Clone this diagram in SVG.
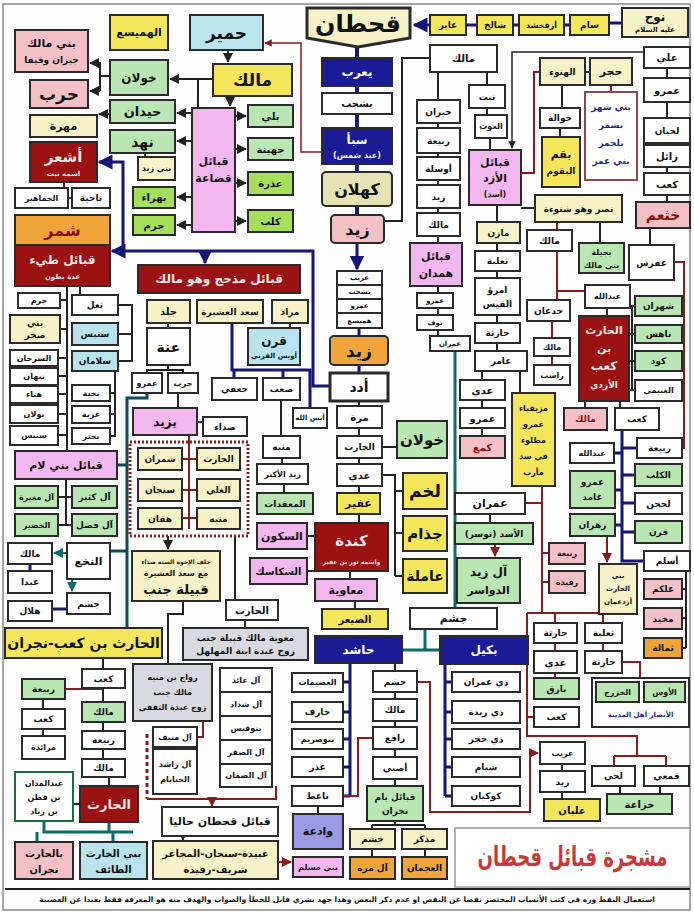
<svg xmlns="http://www.w3.org/2000/svg" width="694" height="914" viewBox="0 0 694 914" font-size="10" fill="#111">
<defs>
<marker id="an" viewBox="0 0 10 10" refX="9" refY="5" markerWidth="5" markerHeight="5" orient="auto"><path d="M0,0 L10,5 L0,10 z" fill="#15157a"/></marker>
<marker id="ak" viewBox="0 0 10 10" refX="9" refY="5" markerWidth="5" markerHeight="5" orient="auto"><path d="M0,0 L10,5 L0,10 z" fill="#222"/></marker>
<marker id="ar" viewBox="0 0 10 10" refX="9" refY="5" markerWidth="5" markerHeight="5" orient="auto"><path d="M0,0 L10,5 L0,10 z" fill="#8b1a1a"/></marker>
<marker id="at" viewBox="0 0 10 10" refX="9" refY="5" markerWidth="5" markerHeight="5" orient="auto"><path d="M0,0 L10,5 L0,10 z" fill="#0d6b6b"/></marker>
</defs>
<style>
rect,polygon{stroke:#2a2a2a;stroke-width:2}
text{font-family:"DejaVu Sans",sans-serif;font-weight:bold;text-anchor:middle;dominant-baseline:central;direction:rtl}
.w{fill:#fff}.y{fill:#f4e65a}.ly{fill:#f6f1c6}.g{fill:#b9e6b3}.lg{fill:#a6df5a}.pk{fill:#f3c0c6}.or{fill:#f1b7ee}.bl{fill:#b9e4ee}.nv{fill:#1b1b96}.rd{fill:#9a1212}.og{fill:#f0a53a}.gr{fill:#d9d9e1}.pu{fill:#9a9ae2}.ol{fill:#e6e2b4}
.lt{fill:#fde6e6}.wt{fill:#fff}.dr{fill:#8a1010}.nt{fill:#1a2a8a}.tr{fill:#c83a3a}
.frame{fill:#fdfdfd;stroke:#888;stroke-width:1.5}.tb{fill:#fff;stroke:#999;stroke-width:1.5}
.dash{fill:none;stroke:#8b1a1a;stroke-width:3;stroke-dasharray:2,2}
.thick{stroke-width:3}.gb{stroke:#1d6b3a}.sb{stroke:#8b4a4a}
.c path{fill:none}
.n{stroke:#15157a;stroke-width:3}.k{stroke:#222;stroke-width:2}.r{stroke:#8b1a1a;stroke-width:2}.t{stroke:#0d6b6b;stroke-width:3}.t2{stroke:#0d4d5a}
.sw4{stroke-width:4}.sw3{stroke-width:3}.sw2{stroke-width:2}.sw15{stroke-width:1.5}.dsh{stroke-dasharray:4,3}
</style>
<rect class="frame" x="3" y="4" width="687" height="906"/>

<g id="connectors" class="c">
<path class="n sw4" d="M357,44 V215"/>
<path class="n" d="M357,243 V269" marker-end="url(#an)"/>
<path class="n" d="M359,328 V336 M359,365 V373"/>
<path class="n" d="M430,25 H414" marker-end="url(#an)"/>
<path class="n" d="M466,25 H477 M513,25 H519 M564,25 H570 M609,23 H622"/>
<path class="n" d="M330,386 H313 V251 H123 V162 H99" marker-end="url(#an)"/>
<path class="n" d="M123,251 H112" marker-end="url(#an)"/>
<path class="n" d="M205,251 V263" marker-end="url(#an)"/>
<path class="n" d="M232,323 V370 H310 V408 M234,370 V378 M283,370 V378"/>
<path class="k" d="M384,221 H402 V58 H430"/>
<path class="k" d="M228,50 V62" marker-end="url(#ak)"/>
<path class="k" d="M213,79 H170" marker-end="url(#ak)"/>
<path class="k" d="M198,79 V108"/>
<path class="k" d="M230,96 V106" marker-end="url(#ak)"/>
<path class="k" d="M110,76 H100 M100,62 V91"/>
<path class="k" d="M100,63 H90" marker-end="url(#ak)"/>
<path class="k" d="M100,91 H90" marker-end="url(#ak)"/>
<path class="k" d="M192,113 H177" marker-end="url(#ak)"/>
<path class="k" d="M192,141 H177" marker-end="url(#ak)"/>
<path class="k" d="M192,197 H177" marker-end="url(#ak)"/>
<path class="k" d="M192,225 H177" marker-end="url(#ak)"/>
<path class="k" d="M110,114 H99" marker-end="url(#ak)"/>
<path class="k" d="M145,153 V157"/>
<path class="k" d="M235,116 H246" marker-end="url(#ak)"/>
<path class="k" d="M235,149 H246" marker-end="url(#ak)"/>
<path class="k" d="M235,183 H246" marker-end="url(#ak)"/>
<path class="k" d="M235,221 H246" marker-end="url(#ak)"/>
<path class="r" d="M64,182 V198 H72 M64,198 H68"/>
<path class="r sw15" d="M322,152 H301 V43 H265" marker-end="url(#ar)"/>
<path class="k" d="M438,72 V243 M438,286 V336 M487,72 V85 M487,108 V115 M490,138 V150"/>
<path class="k sw15" d="M644,52 H512 V148" marker-end="url(#ak)"/>
<path class="k" d="M585,72 H590 M562,85 V108 M560,128 V137"/>
<path class="r" d="M611,85 V92"/>
<path class="r" d="M521,173 H534 V72 H540"/>
<path class="k" d="M667,68 V202 M521,208 H535 M497,205 V351 M482,371 V436 M520,371 V393"/>
<path class="r" d="M557,222 V300 M557,291 H585 M552,321 V365"/>
<path class="k" d="M600,222 V243 M650,222 V245 M607,308 V316"/>
<path class="r" d="M674,262 H684 V448 H682"/>
<path class="k" d="M632,306 V390 M629,306 H635 M629,334 H635 M629,361 H635 M629,390 H635 M585,401 V408 M620,401 V408"/>
<path class="n" d="M622,430 V561 H644 M614,453 H622 M622,448 H637 M622,475 H635 M615,490 H622 M622,503 H635 M615,525 H622 M622,532 H635"/>
<path class="r" d="M607,536 V562" marker-end="url(#ar)"/>
<path class="k" d="M686,571 V648 M682,589 H686 M682,618 H686 M682,648 H686"/>
<path class="r" d="M542,486 V613 M525,503 H542 M542,553 H549 M542,582 H549"/>
<path class="k" d="M490,514 V523"/>
<path class="r" d="M495,544 V556" marker-end="url(#ar)"/>
<path class="r" d="M527,613 H637 M555,613 V623 M603,613 V623 M555,643 V651 M603,643 V651 M555,673 V678 M622,662 H640 V678"/>
<path class="r" d="M527,613 V736 H637 V756 M614,756 H666 M614,756 V766 M666,756 V766 M527,717 H534"/>
<path class="k" d="M620,786 V794 M660,786 V794 M562,764 V771 M562,792 V799"/>
<path class="r" d="M417,682 H430 V812 H530 V753 H538" marker-end="url(#ar)"/>
<path class="t" d="M455,351 V608 M425,629 V650 M402,650 H440"/>
<path class="n" d="M350,663 V797 M343,682 H350 M343,712 H350 M343,739 H350 M343,767 H350 M343,796 H350"/>
<path class="k" d="M318,806 V814 M395,663 V671 M395,692 V699 M395,721 V727 M395,749 V757 M395,779 V786"/>
<path class="r" d="M343,796 H358 V738 H373"/>
<path class="k" d="M395,821 V825 M372,825 H425 M372,825 V829 M425,825 V829 M372,849 V857 M425,849 V857"/>
<path class="r" d="M278,862 H291" marker-end="url(#ar)"/>
<path class="n" d="M445,664 V796 M445,682 H452 M445,712 H452 M445,739 H452 M445,767 H452 M445,796 H452"/>
<path class="k" d="M359,401 V406 M359,428 V436 M382,447 H397 M359,458 V464 M359,486 V493 M359,514 V523 M307,536 H315 M307,571 H315 M350,571 V579 M355,601 V609"/>
<path class="k" d="M382,475 H395 V576 M395,491 H403 M395,533 H403 M395,576 H403"/>
<path class="k" d="M281,400 V436 M282,458 V464 M284,484 V493 M290,323 V328 M168,323 V328 M168,365 V370 H147 V373 M168,370 H183 V373 M178,393 V408 M197,422 H203"/>
<path class="t t2" d="M147,393 V398 H127 V628 M117,465 H127 M110,551 H127"/>
<path class="r" d="M189,435 V529 M182,459 H197 M182,490 H197 M182,518 H197"/>
<path class="k" d="M168,536 V549" marker-end="url(#ak)"/>
<path class="k" d="M235,536 V600 M183,601 V614 H168 V664 M245,620 V628"/>
<path class="r" d="M203,721 V737 H197"/>
<path class="r sw3 dsh" d="M147,734 V799"/>
<path class="r" d="M147,799 H276 V786"/>
<path class="r" d="M212,799 V806" marker-end="url(#ar)"/>
<path class="k" d="M183,836 V840" marker-end="url(#ak)"/>
<path class="k" d="M67,286 V451 M60,300 H67 M60,329 H67 M58,358 H67 M58,376 H67 M58,394 H67 M58,414 H67 M58,435 H67 M80,286 V295"/>
<path class="k" d="M118,305 H132 V361 H118 M118,334 H132 M110,361 H115 V436 H110 M110,393 H115 M110,414 H115"/>
<path class="k" d="M66,479 V525 M58,497 H72 M58,525 H72"/>
<path class="t sw2" d="M67,553 H54" marker-end="url(#at)"/>
<path class="t sw2" d="M72,579 V591" marker-end="url(#at)"/>
<path class="n" d="M67,609 H52 M30,564 V571"/>
<path class="k" d="M103,658 V669 M103,688 V702 M103,722 V731 M103,749 V759 M109,777 V786 M43,699 V709 M43,729 V736 M73,804 H80"/>
<path class="r" d="M65,689 H103"/>
<path class="t" d="M44,821 V832 H133 M37,832 V842 M113,832 V842 M109,822 V832"/>
</g>

<g id="n-qahtan"><polygon class="ly thick" points="307,8 410,8 410,38 358,47 307,38"/><text x="358" y="24" font-size="24">قحطان</text></g>
<g id="n-abir"><rect class="y" x="430" y="15" width="36" height="20"/><text x="448" y="25" font-size="9">عابر</text></g>
<g id="n-shalikh"><rect class="y" x="477" y="15" width="36" height="20"/><text x="495" y="25" font-size="9">شالخ</text></g>
<g id="n-arfakhshad"><rect class="y" x="519" y="15" width="45" height="20"/><text x="541.5" y="25" font-size="8">أرفخشد</text></g>
<g id="n-sam"><rect class="y" x="570" y="15" width="39" height="20"/><text x="589.5" y="25" font-size="9">سام</text></g>
<g id="n-nuh"><rect class="ly" x="622" y="8" width="66" height="29"/><text x="655" y="17" font-size="12">نوح</text><text x="655" y="30" font-size="7">عليه السلام</text></g>

<g id="n-himyar"><rect class="bl" x="190" y="15" width="73" height="35"/><text x="226.5" y="32.5" font-size="17">حمير</text></g>
<g id="n-hamaysa"><rect class="y" x="110" y="15" width="58" height="35"/><text x="139" y="32.5" font-size="11">الهميسع</text></g>
<g id="n-banimalik"><rect class="pk" x="15" y="30" width="73" height="42"/><text x="51.5" y="43" font-size="11">بني مالك</text><text x="51.5" y="60" font-size="9">جيزان وقيفا</text></g>
<g id="n-khawlan1"><rect class="g" x="110" y="60" width="58" height="35"/><text x="139" y="77.5" font-size="12">خولان</text></g>
<g id="n-harb1"><rect class="pk" x="30" y="80" width="58" height="28"/><text x="59" y="94" font-size="17">حرب</text></g>
<g id="n-malik1"><rect class="y" x="213" y="64" width="79" height="32"/><text x="252.5" y="80" font-size="17">مالك</text></g>
<g id="n-haydan"><rect class="g" x="110" y="100" width="65" height="23"/><text x="142.5" y="111.5" font-size="13">حيدان</text></g>
<g id="n-mahra"><rect class="ly" x="30" y="115" width="67" height="22"/><text x="63.5" y="126" font-size="11">مهرة</text></g>
<g id="n-nahd"><rect class="g" x="110" y="130" width="65" height="23"/><text x="142.5" y="141.5" font-size="14">نهد</text></g>
<g id="n-qudaa"><rect class="or" x="192" y="108" width="43" height="124"/><text x="213.5" y="161" font-size="11">قبائل</text><text x="213.5" y="178" font-size="11">قضاعة</text></g>
<g id="n-banizayd"><rect class="ly" x="138" y="157" width="37" height="23"/><text x="156.5" y="168.5" font-size="8">بني زيد</text></g>
<g id="n-bahraa"><rect class="lg" x="133" y="187" width="42" height="21"/><text x="154" y="197.5">بهراء</text></g>
<g id="n-jarm1"><rect class="lg" x="133" y="215" width="42" height="20"/><text x="154" y="225">جرم</text></g>
<g id="n-bali"><rect class="g" x="248" y="105" width="45" height="22"/><text x="270.5" y="116">بلي</text></g>
<g id="n-juhayna"><rect class="g" x="248" y="138" width="45" height="22"/><text x="270.5" y="149">جهينة</text></g>
<g id="n-udhra"><rect class="lg" x="248" y="172" width="45" height="23"/><text x="270.5" y="183.5">عذرة</text></g>
<g id="n-kalb"><rect class="lg" x="248" y="210" width="45" height="22"/><text x="270.5" y="221">كلب</text></g>
<g id="n-ashar"><rect class="rd" x="30" y="142" width="67" height="40"/><text class="lt" x="63.5" y="157" font-size="15">أشعر</text><text class="lt" x="63.5" y="174" font-size="7">اسمه نبت</text></g>
<g id="n-nahiya"><rect class="w" x="72" y="188" width="38" height="20"/><text x="91" y="198" font-size="9">ناحية</text></g>
<g id="n-jamahir"><rect class="w" x="15" y="188" width="53" height="20"/><text x="41.5" y="198" font-size="8">الجماهير</text></g>
<g id="n-shammar"><rect class="og" x="15" y="215" width="95" height="30"/><text class="dr" x="62.5" y="230" font-size="16">شمر</text></g>
<g id="n-tayy"><rect class="rd" x="15" y="245" width="95" height="41"/><text class="lt" x="62.5" y="260" font-size="12">قبائل طيء</text><text class="lt" x="62.5" y="277" font-size="7">عدة بطون</text></g>

<g id="n-yarub"><rect class="nv" x="322" y="58" width="70" height="28"/><text class="wt" x="357" y="72" font-size="12">يعرب</text></g>
<g id="n-yashjub"><rect class="w" x="322" y="93" width="70" height="21"/><text x="357" y="103.5">يشجب</text></g>
<g id="n-saba"><rect class="nv" x="322" y="128" width="70" height="36"/><text class="wt" x="357" y="140" font-size="12">سبأ</text><text class="wt" x="357" y="155" font-size="8">(عبد شمس)</text></g>
<g id="n-kahlan"><rect class="ol" x="322" y="172" width="70" height="34" rx="4"/><text x="357" y="189" font-size="16">كهلان</text></g>
<g id="n-zayd1"><rect class="pk" x="331" y="215" width="53" height="28" rx="4"/><text x="357.5" y="229" font-size="16">زيد</text></g>
<g id="n-stack"><rect class="w" x="337" y="271" width="45" height="14"/><rect class="w" x="337" y="285" width="45" height="14"/><rect class="w" x="337" y="299" width="45" height="14"/><rect class="w" x="337" y="313" width="45" height="15"/><text x="359.5" y="278" font-size="7">عريب</text><text x="359.5" y="292" font-size="7">يشجب</text><text x="359.5" y="306" font-size="7">عمرو</text><text x="359.5" y="320.5" font-size="7">هميسع</text></g>
<g id="n-zayd2"><rect class="og" x="330" y="336" width="58" height="29" rx="4"/><text x="359" y="350.5" font-size="17">زيد</text></g>
<g id="n-udad"><rect class="w thick" x="330" y="373" width="58" height="28"/><text x="359" y="387" font-size="14">أدد</text></g>

<g id="n-madhhij"><rect class="rd" x="138" y="265" width="162" height="28"/><text class="lt" x="219" y="279" font-size="12">قبائل مذحج وهو مالك</text></g>
<g id="n-jald"><rect class="ly" x="147" y="300" width="43" height="23"/><text x="168.5" y="311.5">جلد</text></g>
<g id="n-saad"><rect class="ly" x="197" y="300" width="66" height="23"/><text x="230" y="311.5" font-size="9">سعد العشيرة</text></g>
<g id="n-murad"><rect class="ly" x="272" y="300" width="36" height="23"/><text x="290" y="311.5" font-size="9">مراد</text></g>
<g id="n-qarn1"><rect class="bl" x="248" y="328" width="52" height="37"/><text x="274" y="341" font-size="12">قرن</text><text x="274" y="356" font-size="7">أويس القرني</text></g>
<g id="n-ana"><rect class="w" x="147" y="328" width="43" height="37"/><text x="168.5" y="346.5" font-size="14">عنة</text></g>
<g id="n-amr1"><rect class="w" x="132" y="373" width="30" height="20"/><text x="147" y="383" font-size="8">عمرو</text></g>
<g id="n-harb2"><rect class="w" x="168" y="373" width="30" height="20"/><text x="183" y="383" font-size="8">حرب</text></g>
<g id="n-jufi"><rect class="w" x="212" y="378" width="45" height="22"/><text x="234.5" y="389" font-size="9">جعفي</text></g>
<g id="n-sab"><rect class="w" x="263" y="378" width="37" height="22"/><text x="281.5" y="389" font-size="9">صعب</text></g>
<g id="n-yazid"><rect class="or" x="133" y="408" width="64" height="27"/><text x="165" y="421.5" font-size="12">يزيد</text></g>
<g id="n-suda"><rect class="w" x="203" y="417" width="44" height="19"/><text x="225" y="426.5" font-size="9">صداء</text></g>
<g id="n-anasallah"><rect class="w" x="293" y="408" width="34" height="20"/><text x="310" y="418" font-size="7">أنس الله</text></g>
<g id="n-murra"><rect class="w" x="337" y="406" width="45" height="22"/><text x="359.5" y="417">مرة</text></g>
<g id="n-harith1"><rect class="w" x="337" y="436" width="45" height="22"/><text x="359.5" y="447" font-size="9">الحارث</text></g>
<g id="n-munabbih"><rect class="w" x="263" y="436" width="37" height="22"/><text x="281.5" y="447" font-size="9">منبه</text></g>
<g id="n-khawlan2"><rect class="g" x="397" y="421" width="50" height="37"/><text x="422" y="439.5" font-size="15">خولان</text></g>
<g id="n-zaydakbar"><rect class="w" x="257" y="464" width="51" height="20"/><text x="282.5" y="474" font-size="8">زيد الأكبر</text></g>
<g id="n-maqadat"><rect class="g" x="257" y="493" width="56" height="21"/><text x="285" y="503.5" font-size="9">المعقدات</text></g>
<g id="n-adi1"><rect class="w" x="337" y="464" width="45" height="22"/><text x="359.5" y="475">عدي</text></g>
<g id="n-ufayr"><rect class="y" x="337" y="493" width="43" height="21"/><text x="358.5" y="503.5" font-size="11">عفير</text></g>
<g id="n-kinda"><rect class="rd" x="315" y="523" width="73" height="48"/><text class="lt" x="351.5" y="541" font-size="15">كندة</text><text class="lt" x="351.5" y="561" font-size="6">واسمه ثور بن عفير</text></g>
<g id="n-sakun"><rect class="or" x="257" y="523" width="50" height="26"/><text x="282" y="536" font-size="11">السكون</text></g>
<g id="n-sakasik"><rect class="or" x="250" y="558" width="57" height="26"/><text x="278.5" y="571">السكاسك</text></g>
<g id="n-muawiya"><rect class="or" x="315" y="579" width="62" height="22"/><text x="346" y="590" font-size="11">معاوية</text></g>
<g id="n-sayar"><rect class="y" x="322" y="609" width="66" height="20"/><text x="355" y="619">الصيعر</text></g>
<g id="n-lakhm"><rect class="y" x="403" y="473" width="44" height="36"/><text x="425" y="491" font-size="17">لخم</text></g>
<g id="n-judham"><rect class="y" x="403" y="516" width="44" height="35"/><text x="425" y="533.5" font-size="15">جذام</text></g>
<g id="n-amila"><rect class="y" x="403" y="559" width="44" height="34"/><text x="425" y="576" font-size="14">عاملة</text></g>

<g id="n-janbgroup"><rect class="dash" x="130" y="442" width="118" height="94"/></g>
<g id="n-shamran"><rect class="ly" x="138" y="448" width="44" height="22"/><text x="160" y="459" font-size="9">شمران</text></g>
<g id="n-harith2"><rect class="ly" x="197" y="448" width="43" height="22"/><text x="218.5" y="459" font-size="9">الحارث</text></g>
<g id="n-sanhan"><rect class="ly" x="138" y="479" width="44" height="22"/><text x="160" y="490" font-size="9">سنحان</text></g>
<g id="n-ghali"><rect class="ly" x="197" y="479" width="43" height="22"/><text x="218.5" y="490" font-size="9">الغلي</text></g>
<g id="n-haffan"><rect class="ly" x="138" y="508" width="44" height="21"/><text x="160" y="518.5" font-size="9">هفان</text></g>
<g id="n-munabbih2"><rect class="ly" x="197" y="508" width="43" height="21"/><text x="218.5" y="518.5" font-size="9">منبه</text></g>
<g id="n-janb"><rect class="ly" x="132" y="551" width="88" height="50"/><text x="176" y="561" font-size="6">حلف الإخوة الستة صداء</text><text x="176" y="573" font-size="8">مع سعد العشيرة</text><text x="176" y="589" font-size="13">قبيلة جنب</text></g>
<g id="n-harith3"><rect class="w" x="226" y="600" width="52" height="20"/><text x="252" y="610">الحارث</text></g>
<g id="n-muawiyamalik"><rect class="gr" x="183" y="628" width="125" height="32"/><text x="245.5" y="638" font-size="9">معوية مالك قبيلة جنب</text><text x="245.5" y="651" font-size="9">زوج عبدة ابنة المهلهل</text></g>
<g id="n-rawaj"><rect class="gr" x="133" y="664" width="79" height="57"/><text x="172.5" y="677" font-size="8">رواج بن منبه</text><text x="172.5" y="692" font-size="8">مالك جنب</text><text x="172.5" y="707" font-size="8">زوج عبدة الثقفي</text></g>
<g id="n-list"><rect class="w" x="220" y="668" width="52" height="24"/><rect class="w" x="220" y="692" width="52" height="24"/><rect class="w" x="220" y="716" width="52" height="24"/><rect class="w" x="220" y="740" width="52" height="24"/><rect class="w" x="220" y="764" width="52" height="23"/><text x="246" y="680" font-size="8">آل عائذ</text><text x="246" y="704" font-size="8">آل شداد</text><text x="246" y="728" font-size="8">بنوقيس</text><text x="246" y="752" font-size="8">آل الصقر</text><text x="246" y="775.5" font-size="8">آل الصمان</text></g>
<g id="n-alminif"><rect class="w" x="153" y="727" width="44" height="20"/><text x="175" y="737" font-size="8">آل منيف</text></g>
<g id="n-alrashid"><rect class="w" x="153" y="749" width="44" height="45"/><text x="175" y="764" font-size="8">آل راشد</text><text x="175" y="779" font-size="8">الحبابام</text></g>
<g id="n-qahtannow"><rect class="w" x="162" y="807" width="116" height="29"/><text x="220" y="821.5" font-size="11">قبائل قحطان حاليا</text></g>
<g id="n-ubayda"><rect class="ly" x="153" y="841" width="125" height="38"/><text x="215.5" y="853" font-size="10">عبيدة-سنحان-المجاعر</text><text x="215.5" y="869" font-size="10">شريف-رفيدة</text></g>

<g id="n-jarm2"><rect class="w" x="18" y="293" width="42" height="15"/><text x="39" y="300.5" font-size="8">جرم</text></g>
<g id="n-banisakhr"><rect class="ly" x="10" y="315" width="50" height="28"/><text x="35" y="323" font-size="9">بني</text><text x="35" y="335" font-size="9">صخر</text></g>
<g id="n-sirhan"><rect class="w" x="10" y="350" width="48" height="16"/><text x="34" y="358" font-size="8">السرحان</text></g>
<g id="n-nabhan"><rect class="w" x="10" y="368" width="48" height="17"/><text x="34" y="376.5" font-size="8">نبهان</text></g>
<g id="n-hanaa"><rect class="w" x="10" y="386" width="48" height="17"/><text x="34" y="394.5" font-size="8">هناء</text></g>
<g id="n-bawlan"><rect class="w" x="10" y="405" width="48" height="18"/><text x="34" y="414" font-size="8">بولان</text></g>
<g id="n-sinbis1"><rect class="w" x="10" y="426" width="48" height="19"/><text x="34" y="435.5" font-size="8">سنبس</text></g>
<g id="n-thual"><rect class="w" x="72" y="295" width="46" height="20"/><text x="95" y="305" font-size="9">ثعل</text></g>
<g id="n-sinbis2"><rect class="bl" x="72" y="323" width="46" height="22"/><text x="95" y="334" font-size="9">سنبس</text></g>
<g id="n-salaman"><rect class="bl" x="72" y="351" width="46" height="20"/><text x="95" y="361" font-size="9">سلامان</text></g>
<g id="n-nakhba"><rect class="w" x="72" y="385" width="38" height="16"/><text x="91" y="393" font-size="8">نخبة</text></g>
<g id="n-ghaziyya"><rect class="w" x="72" y="406" width="38" height="17"/><text x="91" y="414.5" font-size="8">غزية</text></g>
<g id="n-buhtur"><rect class="w" x="72" y="428" width="38" height="16"/><text x="91" y="436" font-size="8">بحتر</text></g>
<g id="n-banilam"><rect class="or" x="15" y="451" width="102" height="28"/><text x="66" y="465" font-size="11">قبائل بني لام</text></g>
<g id="n-almughira"><rect class="g" x="15" y="486" width="43" height="22"/><text x="36.5" y="497" font-size="8">آل مغيرة</text></g>
<g id="n-alkathir"><rect class="g" x="72" y="486" width="45" height="22"/><text x="94.5" y="497" font-size="9">آل كثير</text></g>
<g id="n-alkhudayr"><rect class="g" x="15" y="514" width="43" height="22"/><text x="36.5" y="525" font-size="8">الخضير</text></g>
<g id="n-alfadl"><rect class="g" x="72" y="514" width="45" height="22"/><text x="94.5" y="525" font-size="9">آل فضل</text></g>
<g id="n-nakha"><rect class="w" x="67" y="543" width="43" height="36"/><text x="88.5" y="561" font-size="11">النخع</text></g>
<g id="n-malik2"><rect class="w" x="8" y="543" width="44" height="21"/><text x="30" y="553.5" font-size="9">مالك</text></g>
<g id="n-abda"><rect class="w" x="8" y="571" width="44" height="22"/><text x="30" y="582" font-size="9">عبدا</text></g>
<g id="n-hilal"><rect class="w" x="8" y="601" width="44" height="20"/><text x="30" y="611" font-size="9">هلال</text></g>
<g id="n-jusham1"><rect class="w" x="67" y="593" width="43" height="21"/><text x="88.5" y="603.5" font-size="9">جشم</text></g>
<g id="n-harithkaabnajran"><rect class="y" x="5" y="628" width="157" height="30"/><text x="83.5" y="643" font-size="14">الحارث بن كعب-نجران</text></g>
<g id="n-kaab1"><rect class="w" x="82" y="669" width="43" height="19"/><text x="103.5" y="678.5" font-size="9">كعب</text></g>
<g id="n-rabia1"><rect class="g" x="22" y="679" width="43" height="20"/><text x="43.5" y="689" font-size="9">ربيعة</text></g>
<g id="n-malik3"><rect class="g" x="82" y="702" width="43" height="20"/><text x="103.5" y="712" font-size="9">مالك</text></g>
<g id="n-kaab2"><rect class="w" x="22" y="709" width="43" height="20"/><text x="43.5" y="719" font-size="9">كعب</text></g>
<g id="n-marathida"><rect class="w" x="22" y="736" width="43" height="23"/><text x="43.5" y="747.5" font-size="8">مرائدة</text></g>
<g id="n-rabia2"><rect class="w" x="82" y="731" width="43" height="18"/><text x="103.5" y="740" font-size="9">ربيعة</text></g>
<g id="n-malik4"><rect class="w" x="82" y="759" width="43" height="18"/><text x="103.5" y="768" font-size="9">مالك</text></g>
<g id="n-harith4"><rect class="rd" x="80" y="786" width="58" height="36"/><text class="lt" x="109" y="804" font-size="13">الحارث</text></g>
<g id="n-abdulmadan"><rect class="w gb" x="15" y="772" width="58" height="49"/><text x="44" y="783" font-size="8">عبدالمدان</text><text x="44" y="797" font-size="8">بن قطن</text><text x="44" y="811" font-size="8">بن زياد</text></g>
<g id="n-balharith"><rect class="pk" x="15" y="842" width="58" height="37"/><text x="44" y="853" font-size="10">بالحارث</text><text x="44" y="869" font-size="10">نجران</text></g>
<g id="n-banialharith"><rect class="bl" x="80" y="842" width="67" height="37"/><text x="113.5" y="853" font-size="10">بني الحارث</text><text x="113.5" y="869" font-size="10">الطائف</text></g>

<g id="n-maliktop"><rect class="w" x="430" y="45" width="67" height="27"/><text x="463.5" y="58.5" font-size="10">مالك</text></g>
<g id="n-khiran"><rect class="w" x="417" y="100" width="43" height="23"/><text x="438.5" y="111.5" font-size="9">خيران</text></g>
<g id="n-rabia3"><rect class="w" x="417" y="128" width="43" height="25"/><text x="438.5" y="140.5" font-size="9">ربيعة</text></g>
<g id="n-awsala"><rect class="w" x="417" y="157" width="43" height="23"/><text x="438.5" y="168.5" font-size="9">أوسلة</text></g>
<g id="n-zayd3"><rect class="w" x="417" y="185" width="43" height="23"/><text x="438.5" y="196.5" font-size="9">زيد</text></g>
<g id="n-malik5"><rect class="w" x="417" y="213" width="43" height="23"/><text x="438.5" y="224.5" font-size="9">مالك</text></g>
<g id="n-hamdan"><rect class="or" x="410" y="243" width="52" height="43"/><text x="436" y="256" font-size="11">قبائل</text><text x="436" y="273" font-size="11">همدان</text></g>
<g id="n-amr2"><rect class="w" x="417" y="293" width="36" height="15"/><text x="435" y="300.5" font-size="7">عمرو</text></g>
<g id="n-nawf"><rect class="w" x="417" y="315" width="36" height="15"/><text x="435" y="322.5" font-size="7">نوف</text></g>
<g id="n-imran1"><rect class="w" x="430" y="336" width="40" height="15"/><text x="450" y="343.5" font-size="7">عمران</text></g>
<g id="n-nabt"><rect class="w" x="469" y="85" width="36" height="23"/><text x="487" y="96.5" font-size="9">نبت</text></g>
<g id="n-ghawth"><rect class="w" x="475" y="115" width="32" height="23"/><text x="491" y="126.5" font-size="8">الغوث</text></g>
<g id="n-azd"><rect class="or" x="469" y="150" width="52" height="55"/><text x="495" y="162" font-size="11">قبائل</text><text x="495" y="178" font-size="11">الأزد</text><text x="495" y="194" font-size="8">(أسد)</text></g>
<g id="n-hanu"><rect class="ly" x="540" y="58" width="45" height="27"/><text x="562.5" y="71.5" font-size="9">الهنوء</text></g>
<g id="n-hujr"><rect class="ly" x="590" y="58" width="42" height="27"/><text x="611" y="71.5" font-size="11">حجر</text></g>
<g id="n-hawala"><rect class="w" x="540" y="108" width="40" height="20"/><text x="560" y="118" font-size="9">حوالة</text></g>
<g id="n-baqum"><rect class="y" x="542" y="137" width="38" height="50"/><text x="561" y="154" font-size="11">بقم</text><text x="561" y="171" font-size="9">البقوم</text></g>
<g id="n-banishahr"><rect class="w sb" x="585" y="92" width="52" height="88"/><text class="nt" x="611" y="107" font-size="9">بني شهر</text><text class="nt" x="611" y="125" font-size="9">بشمر</text><text class="nt" x="611" y="143" font-size="9">بلحمر</text><text class="nt" x="611" y="161" font-size="9">بني عمر</text></g>
<g id="n-ali"><rect class="w" x="644" y="47" width="46" height="21"/><text x="667" y="57.5">علي</text></g>
<g id="n-amr3"><rect class="w" x="644" y="78" width="46" height="24"/><text x="667" y="90">عمرو</text></g>
<g id="n-lihyan"><rect class="w" x="644" y="118" width="46" height="25"/><text x="667" y="130.5" font-size="9">لحيان</text></g>
<g id="n-zail"><rect class="w" x="644" y="145" width="46" height="22"/><text x="667" y="156">زائل</text></g>
<g id="n-kaab3"><rect class="w" x="644" y="173" width="46" height="22"/><text x="667" y="184">كعب</text></g>
<g id="n-khatham"><rect class="pk" x="636" y="202" width="54" height="26"/><text class="dr" x="663" y="215" font-size="14">خثعم</text></g>
<g id="n-nasr"><rect class="ly" x="535" y="195" width="87" height="27"/><text x="578.5" y="208.5" font-size="9">نصر وهو شنوءة</text></g>
<g id="n-mazin"><rect class="ly" x="477" y="222" width="43" height="21"/><text x="498.5" y="232.5" font-size="9">مازن</text></g>
<g id="n-thalaba1"><rect class="w" x="475" y="251" width="45" height="20"/><text x="497.5" y="261" font-size="9">ثعلبة</text></g>
<g id="n-imruulqays"><rect class="w" x="475" y="278" width="45" height="37"/><text x="497.5" y="290" font-size="9">امرؤ</text><text x="497.5" y="304" font-size="9">القيس</text></g>
<g id="n-haritha1"><rect class="w" x="475" y="323" width="45" height="20"/><text x="497.5" y="333" font-size="9">حارثة</text></g>
<g id="n-amir"><rect class="w" x="475" y="351" width="52" height="20"/><text x="501" y="361" font-size="9">عامر</text></g>
<g id="n-adi2"><rect class="w" x="460" y="380" width="45" height="20"/><text x="482.5" y="390">عدي</text></g>
<g id="n-amr4"><rect class="w" x="460" y="408" width="45" height="20"/><text x="482.5" y="418">عمرو</text></g>
<g id="n-kama"><rect class="pk" x="460" y="436" width="45" height="22"/><text class="dr" x="482.5" y="447">كمع</text></g>
<g id="n-muzayqiya"><rect class="y" x="512" y="393" width="43" height="93"/><text x="533.5" y="408" font-size="8">مزيقياء</text><text x="533.5" y="424" font-size="8">عمرو</text><text x="533.5" y="440" font-size="8">مطلوء</text><text x="533.5" y="456" font-size="8">في سد</text><text x="533.5" y="472" font-size="8">مأرب</text></g>
<g id="n-malik6"><rect class="w" x="527" y="230" width="45" height="21"/><text x="549.5" y="240.5" font-size="9">مالك</text></g>
<g id="n-bajila"><rect class="g" x="579" y="243" width="45" height="30"/><text x="601.5" y="252" font-size="8">بجيلة</text><text x="601.5" y="265" font-size="8">بني مالك</text></g>
<g id="n-afras"><rect class="w" x="629" y="245" width="45" height="35"/><text x="651.5" y="262.5" font-size="9">عفرس</text></g>
<g id="n-jadan"><rect class="w" x="527" y="300" width="43" height="21"/><text x="548.5" y="310.5" font-size="9">جدعان</text></g>
<g id="n-malik7"><rect class="w" x="534" y="338" width="36" height="18"/><text x="552" y="347" font-size="8">مالك</text></g>
<g id="n-rasib"><rect class="w" x="534" y="365" width="36" height="20"/><text x="552" y="375" font-size="8">راسب</text></g>
<g id="n-abdullah1"><rect class="w" x="585" y="285" width="45" height="23"/><text x="607.5" y="296.5" font-size="8">عبدالله</text></g>
<g id="n-harithkaabazdi"><rect class="rd" x="579" y="316" width="50" height="85"/><text class="lt" x="604" y="330" font-size="11">الحارث</text><text class="lt" x="604" y="348" font-size="11">بن</text><text class="lt" x="604" y="366" font-size="12">كعب</text><text class="lt" x="604" y="385" font-size="9">الأزدي</text></g>
<g id="n-shahran"><rect class="g" x="635" y="296" width="47" height="20"/><text x="658.5" y="306" font-size="9">شهران</text></g>
<g id="n-nahis"><rect class="g" x="635" y="325" width="47" height="18"/><text x="658.5" y="334" font-size="9">ناهس</text></g>
<g id="n-kud"><rect class="g" x="635" y="351" width="47" height="20"/><text x="658.5" y="361" font-size="9">كود</text></g>
<g id="n-ghunaymi"><rect class="w" x="635" y="380" width="47" height="21"/><text x="658.5" y="390.5" font-size="8">الغنيمي</text></g>
<g id="n-malik8"><rect class="pk" x="564" y="408" width="43" height="22"/><text class="dr" x="585.5" y="419" font-size="9">مالك</text></g>
<g id="n-kaab4"><rect class="w" x="615" y="408" width="44" height="22"/><text x="637" y="419" font-size="9">كعب</text></g>
<g id="n-rabia4"><rect class="w" x="637" y="438" width="45" height="20"/><text x="659.5" y="448" font-size="9">ربيعة</text></g>
<g id="n-abdullah2"><rect class="w" x="570" y="443" width="44" height="20"/><text x="592" y="453" font-size="8">عبدالله</text></g>
<g id="n-kalb2"><rect class="g" x="635" y="464" width="47" height="22"/><text x="658.5" y="475" font-size="9">الكلب</text></g>
<g id="n-amrghamid"><rect class="g" x="570" y="471" width="45" height="37"/><text x="592.5" y="482" font-size="9">عمرو</text><text x="592.5" y="497" font-size="9">غامد</text></g>
<g id="n-lahjan"><rect class="w" x="635" y="493" width="47" height="21"/><text x="658.5" y="503.5" font-size="9">لحجن</text></g>
<g id="n-zahran"><rect class="g" x="570" y="514" width="45" height="22"/><text x="592.5" y="525" font-size="9">زهران</text></g>
<g id="n-qarn2"><rect class="g" x="635" y="521" width="47" height="22"/><text x="658.5" y="532" font-size="9">قرن</text></g>
<g id="n-aslam"><rect class="w" x="644" y="551" width="46" height="20"/><text x="667" y="561" font-size="9">أسلم</text></g>
<g id="n-alkam"><rect class="pk" x="644" y="579" width="38" height="20"/><text x="663" y="589" font-size="9">علكم</text></g>
<g id="n-mukhayd"><rect class="pk" x="644" y="608" width="38" height="21"/><text x="663" y="618.5" font-size="9">مخيد</text></g>
<g id="n-thumala"><rect class="og" x="644" y="638" width="38" height="20"/><text x="663" y="648" font-size="9">ثمالة</text></g>
<g id="n-banialharithazd"><rect class="ly" x="599" y="564" width="38" height="50"/><text x="618" y="576" font-size="7">بني</text><text x="618" y="589" font-size="7">الحارث</text><text x="618" y="602" font-size="7">أزدعمان</text></g>
<g id="n-imran2"><rect class="w" x="455" y="493" width="70" height="21"/><text x="490" y="503.5" font-size="11">عمران</text></g>
<g id="n-asad"><rect class="g" x="455" y="523" width="78" height="21"/><text x="494" y="533.5" font-size="9">الأسد (نوسر)</text></g>
<g id="n-alzayd"><rect class="g" x="457" y="558" width="63" height="45"/><text x="488.5" y="572" font-size="12">آل زيد</text><text x="488.5" y="590" font-size="11">الدواسر</text></g>
<g id="n-rabia5"><rect class="pk" x="549" y="543" width="36" height="21"/><text x="567" y="553.5" font-size="8">ربيعة</text></g>
<g id="n-rufayda"><rect class="pk" x="549" y="571" width="36" height="22"/><text x="567" y="582" font-size="8">رفيدة</text></g>
<g id="n-haritha2"><rect class="w" x="534" y="623" width="43" height="20"/><text x="555.5" y="633" font-size="9">حارثة</text></g>
<g id="n-thalaba2"><rect class="w" x="585" y="623" width="37" height="20"/><text x="603.5" y="633" font-size="9">ثعلبة</text></g>
<g id="n-adi3"><rect class="w" x="534" y="651" width="43" height="22"/><text x="555.5" y="662">عدي</text></g>
<g id="n-haritha3"><rect class="w" x="585" y="651" width="37" height="22"/><text x="603.5" y="662" font-size="9">حارثة</text></g>
<g id="n-bariq"><rect class="g" x="534" y="678" width="45" height="21"/><text x="556.5" y="688.5" font-size="9">بارق</text></g>
<g id="n-kaab5"><rect class="w" x="534" y="707" width="45" height="20"/><text x="556.5" y="717" font-size="9">كعب</text></g>
<g id="n-ansar"><rect class="w" x="592" y="678" width="97" height="49"/><rect class="g" x="596" y="682" width="43" height="20"/><rect class="g" x="644" y="682" width="41" height="20"/><text x="617.5" y="692" font-size="8">الخزرج</text><text x="664.5" y="692" font-size="8">الأوس</text><text class="nt" x="640.5" y="715" font-size="7">الأنصار أهل المدينة</text></g>
<g id="n-lahy"><rect class="w" x="592" y="766" width="43" height="20"/><text x="613.5" y="776" font-size="9">لحي</text></g>
<g id="n-qamaa"><rect class="w" x="644" y="766" width="45" height="20"/><text x="666.5" y="776" font-size="9">قمعي</text></g>
<g id="n-khuzaa"><rect class="g" x="607" y="794" width="65" height="20"/><text x="639.5" y="804" font-size="10">خزاعة</text></g>
<g id="n-arib"><rect class="w" x="540" y="742" width="45" height="22"/><text x="562.5" y="753" font-size="8">عريب</text></g>
<g id="n-zayd4"><rect class="w" x="540" y="771" width="45" height="21"/><text x="562.5" y="781.5" font-size="9">زيد</text></g>
<g id="n-ulban"><rect class="y" x="544" y="799" width="56" height="22"/><text x="572" y="810" font-size="10">عليان</text></g>

<g id="n-jushamA"><rect class="w" x="410" y="608" width="87" height="21"/><text x="453.5" y="618.5" font-size="11">جشم</text></g>
<g id="n-hashid"><rect class="nv" x="315" y="636" width="87" height="27"/><text class="wt" x="358.5" y="649.5" font-size="12">حاشد</text></g>
<g id="n-bakil"><rect class="nv" x="440" y="636" width="88" height="28"/><text class="wt" x="484" y="650" font-size="12">بكيل</text></g>
<g id="n-usaymat"><rect class="w" x="292" y="673" width="51" height="19"/><text x="317.5" y="682.5" font-size="8">العصيمات</text></g>
<g id="n-kharif"><rect class="w" x="292" y="702" width="51" height="20"/><text x="317.5" y="712" font-size="9">خارف</text></g>
<g id="n-banusuraym"><rect class="w" x="292" y="729" width="51" height="20"/><text x="317.5" y="739" font-size="8">بنوصريم</text></g>
<g id="n-udhr"><rect class="w" x="292" y="757" width="51" height="20"/><text x="317.5" y="767" font-size="9">عذر</text></g>
<g id="n-nait"><rect class="w" x="292" y="786" width="51" height="20"/><text x="317.5" y="796" font-size="9">ناعط</text></g>
<g id="n-wadia"><rect class="pu" x="293" y="814" width="50" height="35"/><text x="318" y="831.5" font-size="11">وادعة</text></g>
<g id="n-banimuslim"><rect class="or" x="293" y="857" width="50" height="20"/><text x="318" y="867" font-size="8">بني مسلم</text></g>
<g id="n-jushamB"><rect class="w" x="373" y="671" width="44" height="21"/><text x="395" y="681.5" font-size="9">جشم</text></g>
<g id="n-malik9"><rect class="w" x="373" y="699" width="44" height="22"/><text x="395" y="710" font-size="9">مالك</text></g>
<g id="n-rafi"><rect class="w" x="373" y="727" width="44" height="22"/><text x="395" y="738" font-size="9">رافع</text></g>
<g id="n-asbi"><rect class="w" x="373" y="757" width="44" height="22"/><text x="395" y="768" font-size="9">أصبي</text></g>
<g id="n-yam"><rect class="g" x="367" y="786" width="56" height="35"/><text x="395" y="797" font-size="9">قبائل يام</text><text x="395" y="811" font-size="9">نجران</text></g>
<g id="n-jusham3"><rect class="ly" x="350" y="829" width="45" height="20"/><text x="372.5" y="839" font-size="9">جشم</text></g>
<g id="n-mudhakkir"><rect class="ly" x="402" y="829" width="45" height="20"/><text x="424.5" y="839" font-size="9">مذكر</text></g>
<g id="n-almurra"><rect class="og" x="350" y="857" width="45" height="22"/><text x="372.5" y="868" font-size="9">آل مره</text></g>
<g id="n-ajman"><rect class="og" x="402" y="857" width="45" height="22"/><text x="424.5" y="868" font-size="9">العجمان</text></g>
<g id="n-dhiimran"><rect class="w" x="452" y="672" width="68" height="20"/><text x="486" y="682" font-size="9">ذي عمران</text></g>
<g id="n-dhiraydah"><rect class="w" x="452" y="701" width="68" height="22"/><text x="486" y="712" font-size="9">ذي ريدة</text></g>
<g id="n-dhihajr"><rect class="w" x="452" y="729" width="68" height="20"/><text x="486" y="739" font-size="9">ذي حجر</text></g>
<g id="n-shibam"><rect class="w" x="452" y="757" width="68" height="20"/><text x="486" y="767" font-size="9">شبام</text></g>
<g id="n-kawkaban"><rect class="w" x="452" y="786" width="68" height="20"/><text x="486" y="796" font-size="9">كوكبان</text></g>

<g id="title"><rect class="tb" x="455" y="828" width="235" height="59"/><text class="tr" transform="translate(572.5,857) scale(1,1.5)" x="0" y="0" font-size="18">مشجرة قبائل قحطان</text></g>
<g id="footer"><line x1="5" y1="889" x2="690" y2="889" stroke="#222" stroke-width="2"/><text x="347" y="899" font-size="7.5">استعمال النقط وزه في كتب الأنساب المختصر نقصا عن النقص او عدم ذكر البعض وهذا جهد بشري قابل للخطأ والصواب والهدف منه هو المعرفة فقط بعيدا عن العصبية</text></g>
</svg>
